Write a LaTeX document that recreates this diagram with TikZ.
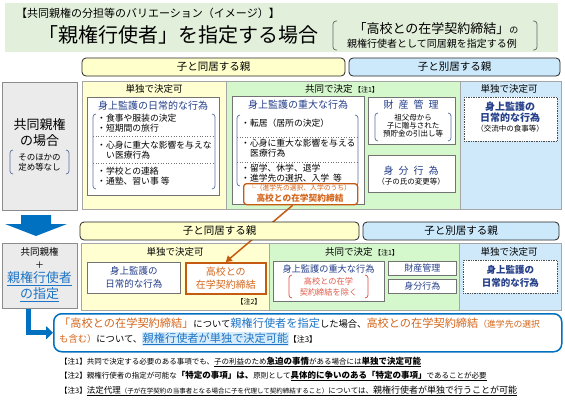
\documentclass[tikz,border=0pt]{standalone}
\usepackage{fontspec}
\setmainfont{Noto Sans CJK JP}
\usetikzlibrary{arrows.meta}
\newcommand{\fsz}[1]{\fontsize{#1}{#1}\selectfont}
\definecolor{bannergreen}{HTML}{E2EFDA}
\definecolor{yelfill}{HTML}{FFFFD2}
\definecolor{yelhead}{HTML}{FFFFCC}
\definecolor{grnfill}{HTML}{D5F7CC}
\definecolor{blufill}{HTML}{CFE9FA}
\definecolor{bluhead}{HTML}{CCE9FB}
\definecolor{grayfill}{HTML}{EBEBEB}
\definecolor{navy}{HTML}{253F8A}
\definecolor{orangeline}{HTML}{C55A11}
\definecolor{orangetxt}{HTML}{D4661C}
\definecolor{arrowblue}{HTML}{0070C0}
\definecolor{linkblue}{HTML}{1E74C6}
\definecolor{brkblue}{HTML}{5B6FA0}
\definecolor{redbrk}{HTML}{E04848}
\definecolor{redtxt}{HTML}{E05A4A}
\definecolor{hilite}{HTML}{D6ECFA}
\begin{document}
\begin{tikzpicture}[x=1pt,y=-1pt,
  region/.style={draw=black!35,line width=.5pt},
  headbox/.style={draw=black!85,line width=.8pt,rounded corners=4pt,minimum height=18pt,inner sep=0pt,font=\fsz{10.5}},
  graybox/.style={draw=black!45,fill=grayfill,line width=.6pt,inner sep=0pt,anchor=north west},
  wbox/.style={draw=black!55,fill=white,line width=.6pt,inner sep=0pt,anchor=north west,align=center},
  dotbox/.style={draw=black!70,densely dotted,fill=white,line width=.7pt,inner sep=0pt,anchor=north west,align=center},
  kokobox/.style={draw=orangeline,fill=white,line width=1.3pt,rounded corners=3pt,inner sep=0pt,anchor=north west},
  dotsep/.style={dotted,draw=black!55,line width=.6pt},
  brk/.style={draw=brkblue,line width=.7pt,rounded corners=3pt},
  item/.style={anchor=west,inner sep=0pt,font=\fsz{8.8}},
  navytitle/.style={inner sep=0pt,text=navy,font=\fsz{10}},
  lbl/.style={inner sep=0pt}
]
\useasboundingbox[fill=white] (0,0) rectangle (565,400);

% title banner
\fill[bannergreen] (5,3) rectangle (558,52);
\node[lbl,anchor=west,font=\fsz{11}] (banner) at (16,13) {【共同親権の分担等のバリエーション（イメージ）】};
\node[lbl,font=\fsz{20}] (title) at (178,35) {「親権行使者」を指定する場合};
\draw[brk,draw=black!60] (337,21) -- (333,21) -- (333,50) -- (337,50);
\draw[brk,draw=black!60] (533,21) -- (537,21) -- (537,50) -- (533,50);
\node[lbl,font=\fsz{13}] (example1) at (436,29) {「高校との在学契約締結」{\fsz{9}の}};
\node[lbl,font=\fsz{10}] (example2) at (432,44) {親権行使者として同居親を指定する例};

% headers, row 1
\node[headbox,fill=yelhead,minimum width=263pt] (cohabit1) at (213.5,67) {子と同居する親};
\node[headbox,fill=bluhead,minimum width=211pt] (apart1) at (454.5,67) {子と別居する親};

% joint custody, no designation
\node[graybox,minimum width=75pt,minimum height=128pt] (joint1) at (2,82) {};
\node[lbl,font=\fsz{13}] (joint1a) at (39.5,125) {共同親権};
\node[lbl,font=\fsz{13}] (joint1b) at (39.5,141) {の場合};
\draw[brk] (13,150) -- (10,150) -- (10,174) -- (13,174);
\draw[brk] (66,150) -- (69,150) -- (69,174) -- (66,174);
\node[lbl,font=\fsz{8.5}] (joint1c) at (39.5,157) {そのほかの};
\node[lbl,font=\fsz{8.5}] (joint1d) at (39.5,167) {定め等なし};

% regions, row 1
\draw[region,fill=yelfill] (82,81) rectangle (226,209);
\draw[region,fill=grnfill] (226,81) rectangle (460,209);
\draw[region,fill=blufill] (460,81) rectangle (561,209);

% cohabiting parent, alone
\node[lbl,font=\fsz{9.5}] (solo1) at (154,89) {単独で決定可};
\node[wbox,minimum width=132pt,minimum height=98pt] (daily1) at (87,97) {};
\node[navytitle] (daily1t) at (153,106) {身上監護の日常的な行為};
\draw[brk] (96,114) -- (93,114) -- (93,189) -- (96,189);
\draw[brk] (212,114) -- (215,114) -- (215,189) -- (212,189);
\draw[dotsep] (93,136) -- (215,136);
\draw[dotsep] (93,163) -- (215,163);
\node[item] (daily1a) at (97,118) {・食事や服装の決定};
\node[item] (daily1b) at (97,128) {・短期間の旅行};
\node[item] (daily1c) at (97,145) {・心身に重大な影響を与えな};
\node[item] (daily1d) at (106,155) {い医療行為};
\node[item] (daily1e) at (97,171) {・学校との連絡};
\node[item] (daily1f) at (97,181) {・通塾、習い事 等};

% jointly
\node[lbl,font=\fsz{9.5}] (together1) at (342,89) {共同で決定\,{\fsz{7}【注1】}};
\node[wbox,minimum width=132pt,minimum height=108pt] (grave1) at (232,96) {};
\node[navytitle] (grave1t) at (298,105) {身上監護の重大な行為};
\draw[brk] (240,115) -- (237,115) -- (237,186) -- (240,186);
\draw[brk] (355,115) -- (358,115) -- (358,186) -- (355,186);
\draw[dotsep] (237,137) -- (358,137);
\draw[dotsep] (237,162) -- (358,162);
\node[item] (grave1a) at (241,123) {・転居（居所の決定）};
\node[item] (grave1b) at (241,143) {・心身に重大な影響を与える};
\node[item] (grave1c) at (250,153) {医療行為};
\node[item] (grave1d) at (241,168) {・留学、休学、退学};
\node[item] (grave1e) at (241,178) {・進学先の選択、入学\ \ 等};
\node[kokobox,minimum width=114pt,minimum height=21pt] (school1) at (243,183) {};
\node[lbl,text=orangetxt,font=\fsz{6.8}] (school1a) at (300,188) {└（進学先の選択、入学のうち）};
\node[lbl,text=orangetxt,font=\bfseries\fsz{8.7}] (school1b) at (300,198.5) {高校との在学契約締結};

\node[wbox,minimum width=87pt,minimum height=47pt] (property1) at (368,97) {};
\node[navytitle] (property1t) at (411,105) {財\hspace{5pt}産\hspace{5pt}管\hspace{5pt}理};
\draw[brk] (378,113) -- (375,113) -- (375,141) -- (378,141);
\draw[brk] (448,113) -- (451,113) -- (451,141) -- (448,141);
\node[lbl,font=\fsz{7.5}] (property1a) at (413,118) {祖父母から};
\node[lbl,font=\fsz{7.5}] (property1b) at (413,126) {子に贈与された};
\node[lbl,font=\fsz{7.5}] (property1c) at (413,134) {預貯金の引出し等};
\node[wbox,minimum width=87pt,minimum height=37pt] (status1) at (368,155) {};
\node[navytitle] (status1t) at (411,171) {身\hspace{5pt}分\hspace{5pt}行\hspace{5pt}為};
\node[lbl,font=\fsz{7.5}] (status1a) at (411,182) {（子の氏の変更等）};

% separated parent, alone
\node[lbl,font=\fsz{9.5}] (solo2) at (509,89) {単独で決定可};
\node[dotbox,minimum width=93pt,minimum height=44pt] (contact1) at (464,97) {};
\node[lbl,text=navy,font=\bfseries\fsz{10}] (contact1a) at (510,107) {身上監護の};
\node[lbl,text=navy,font=\bfseries\fsz{10}] (contact1b) at (510,118) {日常的な行為};
\node[lbl,font=\fsz{7.5}] (contact1c) at (510,129) {（交流中の食事等）};

% down arrow
\fill[arrowblue] (21,215) -- (51,215) -- (51,224) -- (67,224) -- (36,236) -- (5,224) -- (21,224) -- cycle;

% joint custody with designation
\node[graybox,minimum width=75pt,minimum height=65pt] (joint2) at (2,243) {};
\node[lbl,font=\fsz{9.5}] (joint2a) at (39.5,252) {共同親権};
\node[lbl,font=\fsz{9}] (joint2b) at (39.5,265) {＋};
\node[lbl,text=linkblue,font=\fsz{13}] (joint2c) at (39.5,279) {\underline{親権行使者}};
\node[lbl,text=linkblue,font=\fsz{13}] (joint2d) at (39.5,295) {\underline{の指定}};

% regions, row 2
\draw[region,fill=yelfill] (81,243) rectangle (269,310);
\draw[region,fill=grnfill] (269,243) rectangle (459,310);
\draw[region,fill=blufill] (459,243) rectangle (561,310);

\node[lbl,font=\fsz{9.5}] (solo3) at (175,252) {単独で決定可};
\node[wbox,minimum width=93pt,minimum height=31pt,text=navy,font=\fontsize{9.5}{13}\selectfont] (daily2) at (87,262) {身上監護の\\日常的な行為};
\node[wbox,draw=orangeline,line width=1.5pt,minimum width=80pt,minimum height=31pt,text=orangetxt,font=\fontsize{10}{13}\selectfont] (school2) at (185,262) {高校との\\在学契約締結};
\node[lbl,font=\fsz{7}] (tag2) at (249,302) {【注2】};

\node[lbl,font=\fsz{9.5}] (together2) at (362,252) {共同で決定\,{\fsz{7}【注1】}};
\node[wbox,minimum width=111pt,minimum height=40pt] (grave2) at (273,261) {};
\node[lbl,text=navy,font=\fsz{9.2}] (grave2t) at (328.5,269) {身上監護の重大な行為};
\draw[brk,draw=redbrk] (292,275) -- (289,275) -- (289,298) -- (292,298);
\draw[brk,draw=redbrk] (365,275) -- (368,275) -- (368,298) -- (365,298);
\node[lbl,text=redtxt,font=\fsz{8.2}] (grave2a) at (328.5,281) {高校との在学};
\node[lbl,text=redtxt,font=\fsz{8.2}] (grave2b) at (328.5,292) {契約締結を除く};
\node[wbox,minimum width=68pt,minimum height=14pt,text=navy,font=\fsz{9}] (property2) at (388,261) {財産管理};
\node[wbox,minimum width=68pt,minimum height=14pt,text=navy,font=\fsz{9}] (status2) at (388,279) {身分行為};

\node[lbl,font=\fsz{9.5}] (solo4) at (509,252) {単独で決定可};
\node[dotbox,minimum width=94pt,minimum height=33pt,text=navy,font=\bfseries\fontsize{9.5}{13}\selectfont] (contact2) at (463,260) {身上監護の\\日常的な行為};

% school contract moves to the cohabiting parent
\draw[orangeline,line width=1.5pt,-{Triangle[length=6pt,width=7pt]}] ([xshift=-8pt]school1.south) -- (school2.north);

% headers, row 2
\node[headbox,fill=yelhead,minimum width=279pt] (cohabit2) at (219.5,231) {子と同居する親};
\node[headbox,fill=bluhead,minimum width=196pt] (apart2) at (461,231) {子と別居する親};

% result
\node[lbl,draw=arrowblue,line width=1.5pt,rounded corners=8pt,fill=white,minimum width=508pt,minimum height=38pt,anchor=north west] (result) at (53,313) {};
\node[item,font=\fsz{11.2}] (result1) at (59,323) {\color{orangetxt}「高校との在学契約締結」\color{black}{\fsz{9.3}について}\color{linkblue}親権行使者を指定\color{black}{\fsz{9.3}した場合、}\color{orangetxt}高校との在学契約締結{\fsz{8.8}（進学先の選択}};
\node[item,font=\fsz{11.2}] (result2) at (59,339) {{\color{orangetxt}\fsz{9.3}も含む）}{\fsz{9.3}について、}\setlength{\fboxsep}{0.5pt}\colorbox{hilite}{\color{linkblue}\underline{親権行使者が単独で決定可能}}{\fsz{8}【注3】}};
\draw[arrowblue,line width=5pt,-{Triangle[length=7pt,width=13pt]}] ([xshift=-11.5pt]joint2.south) |- (result.west);

% notes
\node[item,font=\fsz{7.5}] (note1) at (60,362) {【注1】共同で決定する必要のある事項でも、\underline{子の利益のため{\bfseries\fsz{8.5}急迫の事情}がある場合には{\bfseries\fsz{8.5}単独で決定可能}}};
\node[item,font=\fsz{7.5}] (note2) at (60,376) {【注2】親権行使者の指定が可能な{\bfseries\fsz{8.5}「特定の事項」は、}原則として\underline{{\bfseries\fsz{8.5}具体的に争いのある「特定の事項」}であることが必要}};
\node[item,font=\fsz{7.5}] (note3) at (60,391) {【注3】\underline{{\fsz{8.5}法定代理}{\fsz{6.5}（子が在学契約の当事者となる場合に子を代理して契約締結すること）}については、{\fsz{9}親権行使者が単独で行うことが可能}}};
\end{tikzpicture}
\end{document}
